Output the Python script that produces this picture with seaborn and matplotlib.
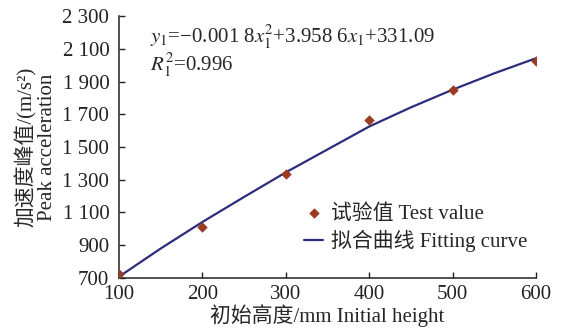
import matplotlib
matplotlib.use("Agg")
import matplotlib.pyplot as plt
import matplotlib.ticker as mticker
import pandas as pd
import seaborn as sns

# measured points
heights = [100, 200, 300, 400, 500, 600]
peak_acc = [725, 1012, 1335, 1662, 1850, 2028]

# fitting curve
fit_x = [100, 150, 200, 250, 300, 350, 400, 450, 500, 550, 600]
fit_y = [708, 880, 1042, 1195, 1345, 1485, 1625, 1742, 1850, 1950, 2042]

x_ticks = [100, 200, 300, 400, 500, 600]
y_ticks = [700, 900, 1100, 1300, 1500, 1700, 1900, 2100, 2300]

sns.set_style("ticks")
plt.rcParams["font.family"] = ["Liberation Serif", "Noto Sans CJK SC"]
plt.rcParams["mathtext.fontset"] = "stix"

test_df = pd.DataFrame({"h": heights, "a": peak_acc})
fit_df = pd.DataFrame({"h": fit_x, "a": fit_y})

fs = 15

fig = plt.figure(figsize=(5.65, 3.34), dpi=100)
ax = fig.add_axes([0.2106, 0.1677, 0.738, 0.7843])

sns.lineplot(data=fit_df, x="h", y="a", ax=ax, color="#2b2d7c", linewidth=1.6,
             label="拟合曲线 Fitting curve")
sns.scatterplot(data=test_df, x="h", y="a", ax=ax, marker="D", s=24, color="#9c3a22",
                edgecolor="#9c3a22", label="试验值 Test value", zorder=3)

ax.set_xlim(100, 600)
ax.set_ylim(700, 2300)
ax.set_xticks(x_ticks)
ax.set_yticks(y_ticks)
ax.yaxis.set_major_formatter(mticker.FuncFormatter(
    lambda v, p: f"{int(v):,}".replace(",", " ")))
ax.tick_params(direction="in", length=4, width=1, labelsize=fs, colors="#222222")
ax.tick_params(axis="x", pad=5)
ax.tick_params(axis="y", pad=7)
sns.despine(ax=ax)
for s in ["left", "bottom"]:
    ax.spines[s].set_linewidth(1.1)
    ax.spines[s].set_color("#222222")

ax.set_xlabel("初始高度/mm Initial height", fontsize=fs, labelpad=0)
ax.set_ylabel("加速度峰值/(m/s²)\nPeak acceleration", fontsize=fs,
              labelpad=4, linespacing=1.05)

ax.text(0.075, 0.97, r"$y_1$=−0.001 8$x_1^2$+3.958 6$x_1$+331.09",
        transform=ax.transAxes, fontsize=fs, va="top")
ax.text(0.075, 0.865, r"$R_1^2$=0.996", transform=ax.transAxes,
        fontsize=fs, va="top")

handles, labels = ax.get_legend_handles_labels()
ax.legend(handles[::-1], labels[::-1], loc="lower right",
          bbox_to_anchor=(1.01, 0.05), frameon=False, fontsize=fs,
          handlelength=0.9, handletextpad=0.4, labelspacing=0.3,
          borderaxespad=0.2)

fig.savefig("out.png", dpi=100)
plt.close(fig)
